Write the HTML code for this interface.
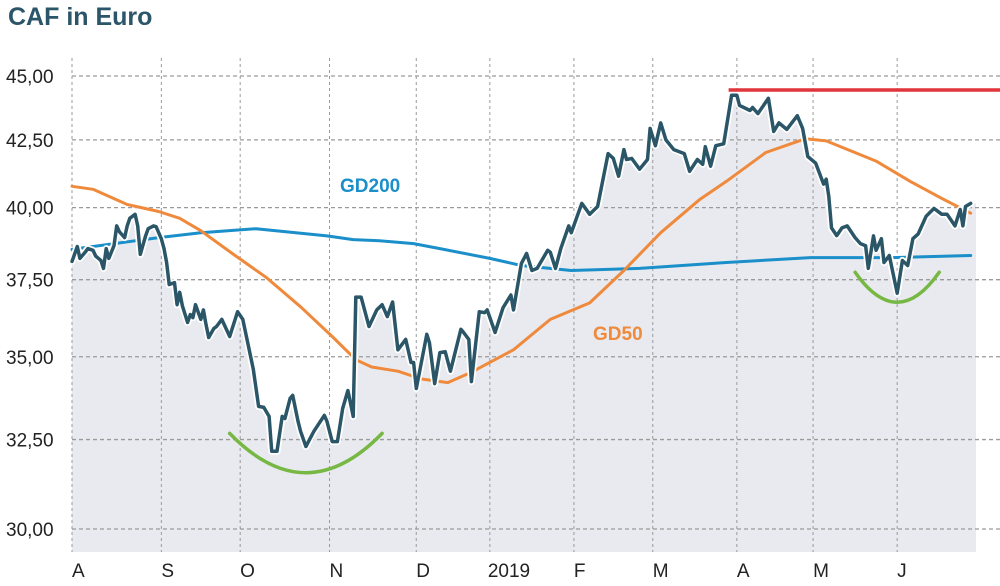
<!DOCTYPE html>
<html><head><meta charset="utf-8"><style>
body{margin:0;background:#fff;width:1000px;height:586px;overflow:hidden;font-family:"Liberation Sans",sans-serif}
svg{display:block}
</style></head><body>
<svg id="chart" width="1000" height="586" viewBox="0 0 1000 586">
<text x="8" y="25" font-size="25" font-weight="bold" fill="#2b5568" font-family="Liberation Sans, sans-serif">CAF in Euro</text>
<g id="area"></g>
<g id="grid"></g>
<g id="lines"></g>
<g id="ylab"></g>
<g id="xlab"></g>
<text x="340" y="192" font-size="19" font-weight="bold" fill="#1a8fc9">GD200</text>
<text x="593" y="340" font-size="19" font-weight="bold" fill="#ef8a3c">GD50</text>
</svg>
<script>
const priceDays=[0,2,3,5,6,8,9,11,12,13,14,16,17,18,20,21,22,24,25,26,28,29,31,32,34,35,36,37,39,40,41,42,44,45,46,47,49,50,51,52,54,55,57,60,63,65,69,71,73,75,76,78,80,81,83,84,86,87,89,90,92,96,97,99,101,103,105,107,108,110,113,116,118,120,122,124,127,129,130,131,135,136,138,140,142,144,148,149,151,152,155,157,158,161,164,167,168,171,173,175,177,181,182,184,186,189,190,194,197,200,204,206,208,210,211,213,216,219,220,222,224,226,229,233,235,238,240,241,243,245,248,251,253,254,258,259,261,265,267,269,272,276,278,280,283,286,287,288,289,291,293,295,298,300,302,303,305,306,308,309,311,314,316,318,320,322,325,328,331,333,336,338,339,340,342];
const priceVals=[38.12,38.63,38.22,38.43,38.56,38.5,38.3,38.15,37.88,38.56,38.22,38.66,39.35,39.15,38.94,39.35,39.62,39.76,39.35,38.36,39.0,39.25,39.35,39.32,38.9,38.56,38.08,37.34,37.4,36.67,37.08,36.63,36.09,36.35,36.25,36.67,36.19,36.5,36.03,35.61,35.9,35.96,36.19,35.64,36.44,36.19,34.61,33.48,33.45,33.18,32.16,32.16,33.18,33.12,33.72,33.81,33.04,32.74,32.3,32.44,32.74,33.21,33.04,32.44,32.44,33.42,33.96,33.18,36.92,36.92,35.96,36.5,36.67,36.28,36.76,35.22,35.55,34.82,34.82,34.02,35.71,35.45,34.17,35.13,35.16,34.55,35.87,35.77,35.55,34.23,36.44,36.41,36.5,35.77,36.57,36.99,36.5,38.05,38.39,37.81,37.88,38.5,38.43,37.88,38.56,39.35,39.11,40.15,39.76,40.04,41.98,41.8,41.14,42.13,41.76,41.8,41.4,41.76,42.94,42.28,43.15,42.5,42.13,41.98,41.32,41.76,41.58,42.24,41.51,42.28,42.35,44.23,44.23,43.83,43.63,43.75,43.51,44.11,42.82,43.15,42.9,43.43,42.94,41.87,41.62,40.85,41.03,40.4,39.28,39.01,39.28,39.35,38.94,38.73,38.66,37.88,39.0,38.5,38.9,38.08,38.32,37.05,38.15,37.98,38.9,39.07,39.69,39.97,39.76,39.76,39.35,39.93,39.35,40.04,40.15];
const gd200Days=[0,33,49,70,97,107,117,130,140,159,171,190,216,249,281,312,342];
const gd200Vals=[38.53,38.94,39.11,39.25,39.0,38.87,38.83,38.73,38.56,38.22,37.98,37.81,37.88,38.08,38.25,38.25,38.32];
const gd50Days=[0,8,21,33,41,49,61,74,87,99,108,114,124,133,143,152,168,182,197,210,224,239,249,264,279,287,306,319,331,342];
const gd50Vals=[40.77,40.66,40.11,39.86,39.62,39.18,38.39,37.57,36.6,35.64,34.91,34.68,34.55,34.31,34.2,34.52,35.22,36.19,36.73,37.81,39.11,40.3,40.95,42.02,42.54,42.46,41.7,40.95,40.33,39.8];
const resistanceVal=44.44;
const resistanceStart=251;
const yTicks=[45,42.5,40,37.5,35,32.5,30];
const yTickLabels=["45,00","42,50","40,00","37,50","35,00","32,50","30,00"];
const monthTicks=[0,34,64,98,131,159,191,221,253,282,314];
const monthLabels=["A","S","O","N","D","2019","F","M","A","M","J"];
const arc1=[[60,32.68],[89,31.55],[118,32.68]];
const arc2=[[298,37.75],[314,36.75],[330,37.75]];

const X0=72,X1=976,D0=0,D1=344,YT=76,YB=529,PB=552;
const xs=d=>X0+(d-D0)/(D1-D0)*(X1-X0);
const ys=v=>YT+(Math.log(45)-Math.log(v))/(Math.log(45)-Math.log(30))*(YB-YT);
const NS="http://www.w3.org/2000/svg";
function mk(tag,attrs,parent){const e=document.createElementNS(NS,tag);for(const k in attrs)e.setAttribute(k,attrs[k]);parent.appendChild(e);return e;}
const grid=document.getElementById('grid'),area=document.getElementById('area'),lines=document.getElementById('lines'),ylab=document.getElementById('ylab'),xlab=document.getElementById('xlab');
let pts=priceDays.map((d,i)=>xs(d).toFixed(1)+','+ys(priceVals[i]).toFixed(1));
let a=mk('path',{d:'M'+xs(priceDays[0])+','+PB+' L'+pts.join(' L')+' L'+X1+','+ys(priceVals[priceVals.length-1]).toFixed(1)+' L'+X1+','+PB+' Z',fill:'#e8eaef'},area);


yTicks.forEach((v,i)=>{
 const l=mk('line',{x1:X0,x2:1000,y1:ys(v),y2:ys(v),stroke:'#9a9a9a','stroke-width':1.3,'stroke-dasharray':'4,3'},grid);
 
 
 const t=mk('text',{x:6,y:ys(v)+7,'font-size':19,fill:'#222'},ylab);
 t.textContent=yTickLabels[i];
 
 
});
monthTicks.forEach((d,i)=>{
 const l=mk('line',{x1:xs(d),x2:xs(d),y1:58,y2:PB,stroke:'#9a9a9a','stroke-width':1,'stroke-dasharray':'3,3'},grid);
 
 
 const t=mk('text',{x:xs(d)+(i==5?-2:0),y:577,'font-size':19,fill:'#222'},xlab);
 t.textContent=monthLabels[i];
 
 
});
function line(days,vals,color,w,name){
 const p=mk('polyline',{points:days.map((d,i)=>xs(d).toFixed(1)+','+ys(vals[i]).toFixed(1)).join(' '),fill:'none',stroke:color,'stroke-width':w,'stroke-linejoin':'round','stroke-linecap':'round'},lines);
 
 
 return p;
}
line(gd200Days,gd200Vals,'#1a8fc9',3,'gd200-line');
line(gd50Days,gd50Vals,'#ef8a3c',3,'gd50-line');
line(priceDays,priceVals,'#ffffff',7,'price-halo');
line(priceDays,priceVals,'#2a5668',3.5,'price-line');
const r=mk('line',{x1:xs(resistanceStart)-3,x2:1000,y1:ys(resistanceVal),y2:ys(resistanceVal),stroke:'#e0353b','stroke-width':3.5},lines);


[arc1,arc2].forEach((arc,i)=>{
 const [p0,p1,p2]=arc;
 const cx=2*xs(p1[0])-(xs(p0[0])+xs(p2[0]))/2, cy=2*ys(p1[1])-(ys(p0[1])+ys(p2[1]))/2;
 const g=mk('path',{d:`M${xs(p0[0])},${ys(p0[1])} Q${cx},${cy} ${xs(p2[0])},${ys(p2[1])}`,fill:'none',stroke:'#76b843','stroke-width':3.5,'stroke-linecap':'round'},lines);
 
 
});
</script>
</body></html>
